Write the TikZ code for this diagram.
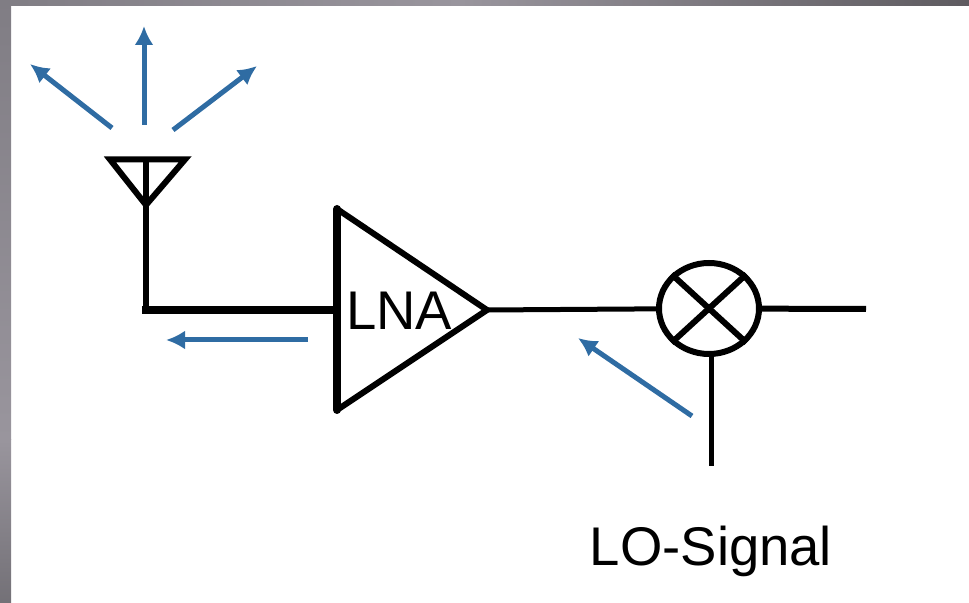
\documentclass[tikz,border=0pt]{standalone}
\usepackage{fontspec}
\setmainfont{Liberation Sans}
\usetikzlibrary{arrows.meta,shapes.geometric}
\definecolor{waveblue}{RGB}{47,108,163}
\definecolor{framegray}{RGB}{128,125,132}
\definecolor{framelight}{RGB}{153,149,157}
\definecolor{framedark}{RGB}{94,91,96}
\tikzset{
  wave/.style={draw=waveblue,line width=5*0.2mm,-{Latex[length=3.8mm,width=3.8mm]}},
  wire/.style={draw=black,line width=6*0.2mm},
  thinwire/.style={draw=black,line width=5*0.2mm},
  thickwire/.style={draw=black,line width=8*0.2mm},
  lbl/.style={font=\fontsize{31}{34}\selectfont,inner sep=0pt}
}
\begin{document}
\begin{tikzpicture}[x=0.2mm,y=-0.2mm]
    \useasboundingbox (0,0) rectangle (969,603);
    % grey frame
    \shade[top color=framegray,bottom color=framelight] (0,0) rectangle (11,440);
    \shade[top color=framelight,bottom color=framegray!90!black] (0,440) rectangle (11,603);
    \shade[left color=framegray,right color=framelight] (0,0) rectangle (460,6);
    \shade[left color=framelight,right color=framedark] (460,0) rectangle (969,6);
    \coordinate (a1) at (110,159.5);
    \coordinate (a2) at (185,159.5);
    \coordinate (a3) at (146,205);
    \coordinate (a4) at (146,159.5);
    \coordinate (c1) at (146,310);
    \coordinate (t1) at (337,209);
    \coordinate (t2) at (337,410);
    \coordinate (t3) at (487,310);
    \coordinate (t4) at (337,310);
    \node[draw,ellipse,line width=6*0.2mm,minimum width=100*0.2mm,minimum height=91*0.2mm,inner sep=0pt] (mix) at (709,308.5) {};
    \node[lbl] (lna) at (399,311) {LNA};
    \node[lbl] (lo) at (711,551) {LO-Signal};
    \coordinate (out) at (866,309);
    \coordinate (lo1) at (711,466);
    \coordinate (lo2) at (711,355);
    \draw[wire] (a1) -- (a2) -- (a3) -- cycle;
    \draw[wire] (a4) -- (c1);
    \draw[thickwire,line cap=rect] (c1) -- (t4);
    \draw[thickwire,line cap=round] (t1) -- (t2);
    \draw[wire] (t1) -- (t3) -- (t2);
    \draw[thinwire] (t3) -- (mix);
    \draw[wire] (mix) -- (out);
    \draw[thinwire] (lo1) -- (lo2);
    \draw[wire] (mix.north west) -- (mix.south east);
    \draw[wire] (mix.north east) -- (mix.south west);
    \coordinate (w1a) at (112,128);
    \coordinate (w1b) at (30,64);
    \coordinate (w2a) at (144,125);
    \coordinate (w2b) at (144,26);
    \coordinate (w3a) at (173,130);
    \coordinate (w3b) at (257,66);
    \coordinate (w4a) at (308,340);
    \coordinate (w4b) at (166,340);
    \coordinate (w5a) at (692,416);
    \coordinate (w5b) at (578,338);
    \draw[wave] (w1a) -- (w1b);
    \draw[wave] (w2a) -- (w2b);
    \draw[wave] (w3a) -- (w3b);
    \draw[wave] (w4a) -- (w4b);
    \draw[wave] (w5a) -- (w5b);
\end{tikzpicture}
\end{document}
